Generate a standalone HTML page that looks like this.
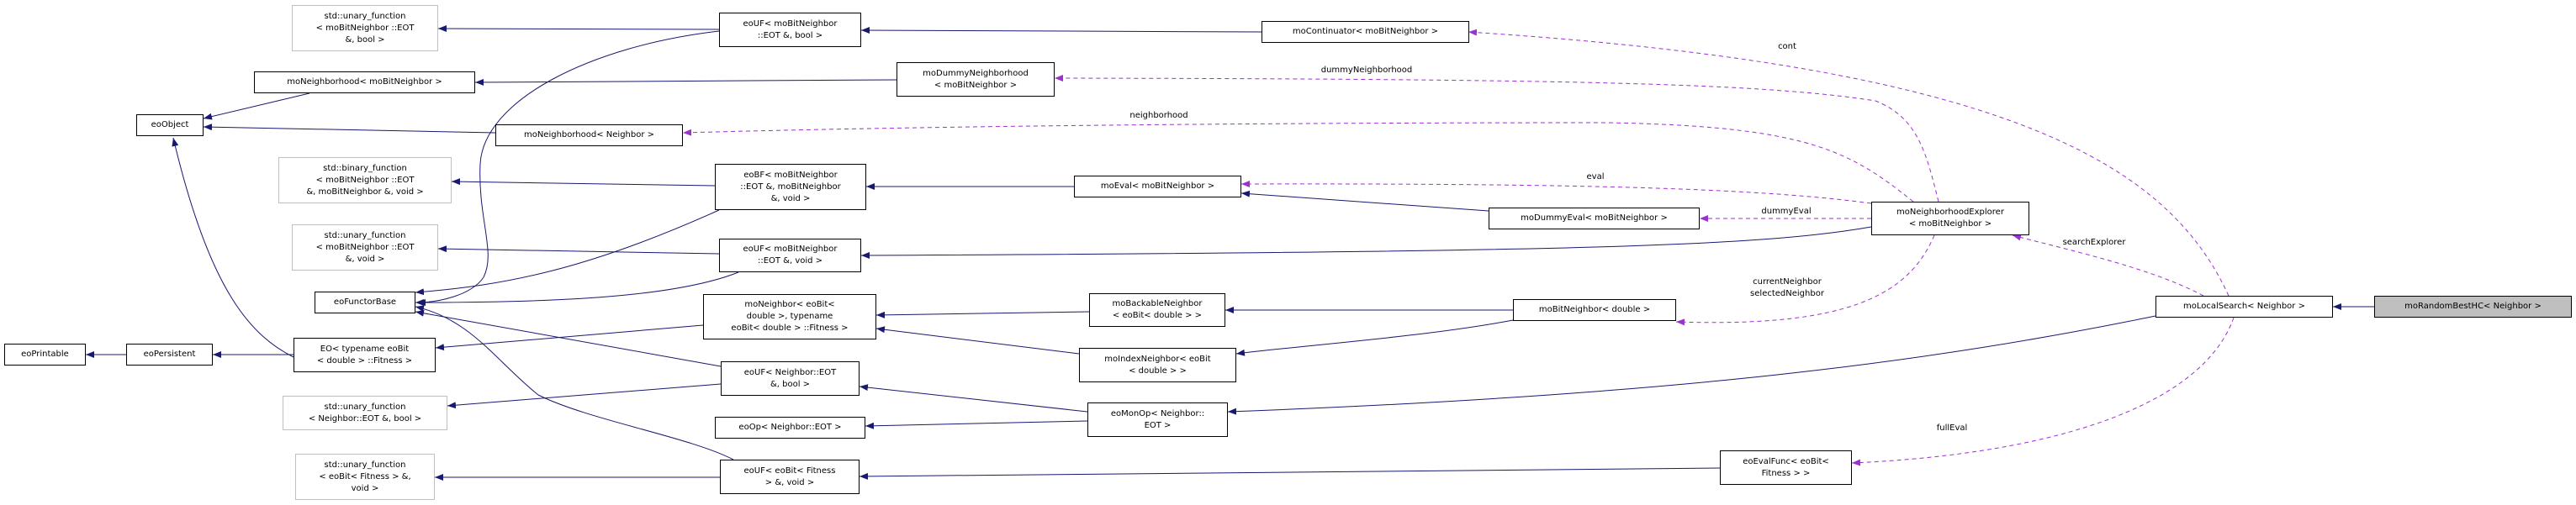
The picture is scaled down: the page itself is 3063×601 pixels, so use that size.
<!DOCTYPE html>
<html><head><meta charset="utf-8"><style>
body{margin:0;width:3063px;height:601px;background:#fff;position:relative;overflow:hidden;font-family:"DejaVu Sans","Liberation Sans",sans-serif;}
.b{position:absolute;box-sizing:border-box;border:1px solid #000;background:#fff;font-size:10px;line-height:14px;text-align:center;display:flex;align-items:center;justify-content:center;color:#000;white-space:nowrap}
.g{border-color:#bfbfbf}
.l{position:absolute;font-size:10px;line-height:14px;color:#000;text-align:center;white-space:nowrap;transform:translateX(-50%)}
svg{position:absolute;left:0;top:0}
</style></head><body>
<svg width="3063" height="601" viewBox="0 0 3063 601">
<defs>
<marker id="a" markerWidth="10" markerHeight="8" refX="10" refY="4" orient="auto" markerUnits="userSpaceOnUse"><path d="M0,0 L10,4 L0,8 z" fill="#191970"/></marker>
<marker id="p" markerWidth="10" markerHeight="8" refX="10" refY="4" orient="auto" markerUnits="userSpaceOnUse"><path d="M0,0 L10,4 L0,8 z" fill="#9a32cd"/></marker>
</defs>
<g fill="none" stroke="#191970" stroke-width="1" marker-end="url(#a)">
<path d="M150,422 L102,422"/>
<path d="M349,422 L253,422"/>
<path d="M855,35 L521,34"/>
<path d="M855,37 C700,55 575,120 571,195 C568,260 590,300 575,330 C560,352 520,360 496,360"/>
<path d="M1066,95 L565,98"/>
<path d="M368,111 L242,141"/>
<path d="M589,158 L242,151"/>
<path d="M349,425 C300,400 250,350 206,164"/>
<path d="M850,221 L537,216"/>
<path d="M855,250 C700,320 600,340 494,348"/>
<path d="M855,302 L521,296"/>
<path d="M878,324 C800,355 650,360 494,360"/>
<path d="M836,387 L518,414"/>
<path d="M857,436 L494,371"/>
<path d="M857,457 L532,483"/>
<path d="M872,547 C820,520 700,500 640,470 C590,430 560,380 494,365"/>
<path d="M856,568 L517,568"/>
<path d="M1500,38 L1024,36"/>
<path d="M1277,222 L1030,222"/>
<path d="M1295,371 L1042,375"/>
<path d="M1283,421 L1042,391"/>
<path d="M1293,490 L1022,460"/>
<path d="M1293,501 L1029,507"/>
<path d="M1770,251 L1476,230"/>
<path d="M2225,270 C2100,292 1900,300 1024,304"/>
<path d="M1799,369 L1457,369"/>
<path d="M1799,381 C1700,400 1560,410 1470,421"/>
<path d="M2563,376 C2300,430 2000,470 1460,490"/>
<path d="M2045,557 L1022,567"/>
<path d="M2823,365 L2774,365"/>
</g>
<g fill="none" stroke="#9a32cd" stroke-width="1" stroke-dasharray="5,4" marker-end="url(#p)">
<path d="M2650,352 C2580,200 2400,80 1746,38"/>
<path d="M2305,240 C2290,180 2280,140 2230,120 C2100,100 1900,94 1254,93"/>
<path d="M2275,240 C2200,180 2150,150 1910,146 C1500,146 1100,150 812,158"/>
<path d="M2225,242 C2100,225 1900,218 1476,219"/>
<path d="M2225,260 L2021,260"/>
<path d="M2620,352 C2560,320 2470,300 2393,280"/>
<path d="M2300,280 C2270,350 2200,390 1993,383"/>
<path d="M2656,378 C2620,480 2450,540 2202,551"/>
</g>
</svg>
<div class="b g" style="left:347px;top:6px;width:174px;height:55px">std::unary_function<br>&lt; moBitNeighbor ::EOT<br>&amp;, bool &gt;</div>
<div class="b" style="left:302px;top:85px;width:263px;height:26px">moNeighborhood&lt; moBitNeighbor &gt;</div>
<div class="b" style="left:162px;top:136px;width:80px;height:26px">eoObject</div>
<div class="b" style="left:589px;top:148px;width:223px;height:26px">moNeighborhood&lt; Neighbor &gt;</div>
<div class="b g" style="left:331px;top:187px;width:206px;height:55px">std::binary_function<br>&lt; moBitNeighbor ::EOT<br>&amp;, moBitNeighbor &amp;, void &gt;</div>
<div class="b g" style="left:347px;top:267px;width:174px;height:55px">std::unary_function<br>&lt; moBitNeighbor ::EOT<br>&amp;, void &gt;</div>
<div class="b" style="left:374px;top:347px;width:120px;height:26px">eoFunctorBase</div>
<div class="b" style="left:5px;top:409px;width:97px;height:26px">eoPrintable</div>
<div class="b" style="left:150px;top:409px;width:103px;height:26px">eoPersistent</div>
<div class="b" style="left:349px;top:402px;width:169px;height:41px">EO&lt; typename eoBit<br>&lt; double &gt; ::Fitness &gt;</div>
<div class="b g" style="left:336px;top:471px;width:196px;height:41px">std::unary_function<br>&lt; Neighbor::EOT &amp;, bool &gt;</div>
<div class="b g" style="left:351px;top:540px;width:166px;height:55px">std::unary_function<br>&lt; eoBit&lt; Fitness &gt; &amp;,<br>void &gt;</div>
<div class="b" style="left:855px;top:15px;width:169px;height:41px">eoUF&lt; moBitNeighbor<br>::EOT &amp;, bool &gt;</div>
<div class="b" style="left:1500px;top:25px;width:247px;height:26px">moContinuator&lt; moBitNeighbor &gt;</div>
<div class="b" style="left:1066px;top:74px;width:188px;height:41px">moDummyNeighborhood<br>&lt; moBitNeighbor &gt;</div>
<div class="b" style="left:850px;top:195px;width:180px;height:55px">eoBF&lt; moBitNeighbor<br>::EOT &amp;, moBitNeighbor<br>&amp;, void &gt;</div>
<div class="b" style="left:1277px;top:209px;width:199px;height:26px">moEval&lt; moBitNeighbor &gt;</div>
<div class="b" style="left:855px;top:284px;width:169px;height:40px">eoUF&lt; moBitNeighbor<br>::EOT &amp;, void &gt;</div>
<div class="b" style="left:836px;top:350px;width:206px;height:54px">moNeighbor&lt; eoBit&lt;<br>double &gt;, typename<br>eoBit&lt; double &gt; ::Fitness &gt;</div>
<div class="b" style="left:1295px;top:349px;width:162px;height:40px">moBackableNeighbor<br>&lt; eoBit&lt; double &gt; &gt;</div>
<div class="b" style="left:1283px;top:414px;width:187px;height:41px">moIndexNeighbor&lt; eoBit<br>&lt; double &gt; &gt;</div>
<div class="b" style="left:857px;top:430px;width:165px;height:41px">eoUF&lt; Neighbor::EOT<br>&amp;, bool &gt;</div>
<div class="b" style="left:850px;top:496px;width:179px;height:26px">eoOp&lt; Neighbor::EOT &gt;</div>
<div class="b" style="left:1293px;top:479px;width:167px;height:41px">eoMonOp&lt; Neighbor::<br>EOT &gt;</div>
<div class="b" style="left:856px;top:547px;width:166px;height:41px">eoUF&lt; eoBit&lt; Fitness<br>&gt; &amp;, void &gt;</div>
<div class="b" style="left:1770px;top:247px;width:251px;height:26px">moDummyEval&lt; moBitNeighbor &gt;</div>
<div class="b" style="left:2225px;top:240px;width:188px;height:40px">moNeighborhoodExplorer<br>&lt; moBitNeighbor &gt;</div>
<div class="b" style="left:1799px;top:356px;width:194px;height:26px">moBitNeighbor&lt; double &gt;</div>
<div class="b" style="left:2563px;top:352px;width:211px;height:26px">moLocalSearch&lt; Neighbor &gt;</div>
<div class="b" style="left:2823px;top:352px;width:235px;height:26px;background:#bfbfbf">moRandomBestHC&lt; Neighbor &gt;</div>
<div class="b" style="left:2045px;top:536px;width:157px;height:41px">eoEvalFunc&lt; eoBit&lt;<br>Fitness &gt; &gt;</div>
<div class="l" style="left:2125px;top:49px">cont</div>
<div class="l" style="left:1625px;top:77px">dummyNeighborhood</div>
<div class="l" style="left:1378px;top:131px">neighborhood</div>
<div class="l" style="left:1897px;top:204px">eval</div>
<div class="l" style="left:2124px;top:245px">dummyEval</div>
<div class="l" style="left:2490px;top:282px">searchExplorer</div>
<div class="l" style="left:2125px;top:329px">currentNeighbor<br>selectedNeighbor</div>
<div class="l" style="left:2321px;top:503px">fullEval</div>
</body></html>
